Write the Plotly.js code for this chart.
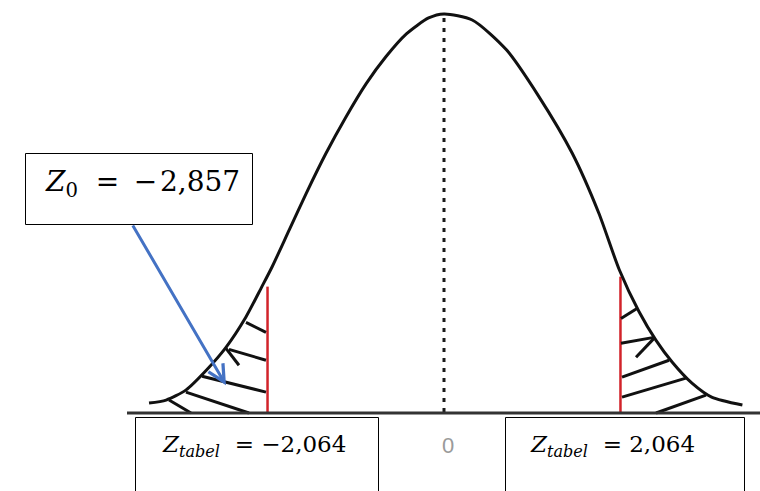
<!DOCTYPE html>
<html>
<head>
<meta charset="utf-8">
<script src="https://cdn.plot.ly/plotly-3.0.1.min.js"></script>
<style>
  html, body { margin: 0; padding: 0; background: #fff; }
  #chart { width: 760px; height: 491px; }
</style>
</head>
<body>
<div id="chart"></div>
<script>
// curve (z on x, density-like height on y)
const curveZ = [-3.45, -3.25, -3.02, -2.78, -2.55, -2.32, -2.13, -2.01, -1.81, -1.61, -1.38, -1.15,
  -0.91, -0.68, -0.44, -0.18, 0, 0.33, 0.73, 1.11, 1.50, 1.81, 2.05, 2.28, 2.48, 2.67, 2.90, 3.13, 3.49];
const curveY = [0.009, 0.012, 0.022, 0.042, 0.065, 0.095, 0.126, 0.146, 0.183, 0.220, 0.260, 0.296,
  0.330, 0.357, 0.380, 0.396, 0.400, 0.394, 0.364, 0.317, 0.260, 0.200, 0.143, 0.101, 0.072, 0.050, 0.029, 0.015, 0.007];

// critical values and the height where the red lines stop
const critZ = [-2.064, 2.064];
const critTop = [0.126, 0.136];
const peakY = 0.400;

// hatch strokes in the two tails
const hatchX0 = [-2.316, -2.515, -2.550, -2.830, -3.018, -3.216, 2.070, 2.070, 2.246, 2.082, 2.082, 2.480];
const hatchY0 = [0.090, 0.063, 0.064, 0.036, 0.020, 0.012, 0.094, 0.069, 0.055, 0.035, 0.015, -0.001];
const hatchX1 = [-2.082, -2.082, -2.398, -2.082, -2.281, -2.959, 2.257, 2.456, 2.456, 2.632, 2.830, 3.064];
const hatchY1 = [0.080, 0.052, 0.047, 0.020, -0.001, -0.001, 0.104, 0.075, 0.074, 0.052, 0.034, 0.017];

// the observed statistic: arrow from the label box to the left tail
const z0Value = '−2,857';
const arrowTip = [-2.55, 0.027];
const arrowTail = [-3.65, 0.189];
const tabelLeft = '−2,064';
const tabelRight = '2,064';

const segs = (x0, y0, x1, y1) => {
  const xs = [], ys = [];
  x0.forEach((v, i) => { xs.push(v, x1[i], null); ys.push(y0[i], y1[i], null); });
  return { xs, ys };
};

const hatch = segs(hatchX0, hatchY0, hatchX1, hatchY1);
const red = segs(critZ, [0, 0], critZ, critTop);

const traces = [
  {
    x: [0, 0], y: [0, peakY], mode: 'lines', hoverinfo: 'skip',
    line: { color: '#1a1a1a', width: 3, dash: '4px,6px' }
  },
  {
    x: red.xs, y: red.ys, mode: 'lines', hoverinfo: 'skip', connectgaps: false,
    line: { color: '#d2232a', width: 2.5 }
  },
  {
    x: hatch.xs, y: hatch.ys, mode: 'lines', hoverinfo: 'skip', connectgaps: false,
    line: { color: '#111', width: 3 }
  },
  {
    x: curveZ, y: curveY, mode: 'lines',
    line: { color: '#111', width: 3, shape: 'spline', smoothing: 0.7 }
  }
];

const px = v => v / 760;
const py = v => 1 - v / 491;
const serif = { family: 'DejaVu Serif', color: '#000' };

const layout = {
  width: 760, height: 491,
  margin: { l: 0, r: 0, t: 0, b: 0 },
  paper_bgcolor: '#fff', plot_bgcolor: '#fff',
  showlegend: false,
  xaxis: { range: [-444 / 85.5, 316 / 85.5], visible: false, fixedrange: true },
  yaxis: { range: [-79 / 995, 412 / 995], visible: false, fixedrange: true },
  shapes: [
    // baseline
    { type: 'line', xref: 'paper', yref: 'paper', x0: px(127), x1: 1, y0: py(413), y1: py(413),
      line: { color: '#333', width: 3 } },
    // label boxes
    { type: 'rect', xref: 'paper', yref: 'paper', x0: px(25.5), x1: px(252.5), y0: py(224.5), y1: py(153.5),
      line: { color: '#000', width: 1 } },
    { type: 'rect', xref: 'paper', yref: 'paper', x0: px(135.5), x1: px(378.5), y0: -0.1, y1: py(417.5),
      line: { color: '#000', width: 1 } },
    { type: 'rect', xref: 'paper', yref: 'paper', x0: px(505.5), x1: px(744.5), y0: -0.1, y1: py(417.5),
      line: { color: '#000', width: 1 } }
  ],
  annotations: [
    { xref: 'paper', yref: 'paper', x: px(43), y: py(184), xanchor: 'left', yanchor: 'middle',
      text: '<i>Z</i><sub>0</sub>\u00a0\u00a0=\u00a0\u2009' + z0Value.replace('−', '−\u200a'), showarrow: false,
      font: Object.assign({ size: 28 }, serif) },
    { xref: 'paper', yref: 'paper', x: px(160), y: py(446), xanchor: 'left', yanchor: 'middle',
      text: '<i>Z<sub>tabel</sub></i>\u00a0\u00a0=\u00a0' + tabelLeft, showarrow: false,
      font: Object.assign({ size: 23 }, serif) },
    { xref: 'paper', yref: 'paper', x: px(528), y: py(446), xanchor: 'left', yanchor: 'middle',
      text: '<i>Z<sub>tabel</sub></i>\u00a0\u00a0=\u00a0' + tabelRight, showarrow: false,
      font: Object.assign({ size: 23 }, serif) },
    { xref: 'paper', yref: 'paper', x: px(448), y: py(445), xanchor: 'center', yanchor: 'middle',
      text: '0', showarrow: false, font: { family: 'Liberation Sans', size: 22, color: '#9a9a9a' } },
    { x: arrowTip[0], y: arrowTip[1], ax: arrowTail[0], ay: arrowTail[1], axref: 'x', ayref: 'y',
      text: '', showarrow: true, arrowhead: 5, arrowsize: 1.1, arrowwidth: 3,
      arrowcolor: '#4472c4', standoff: 0, startstandoff: 0 }
  ]
};

Plotly.newPlot('chart', traces, layout, { displayModeBar: false, staticPlot: true });
</script>
</body>
</html>
